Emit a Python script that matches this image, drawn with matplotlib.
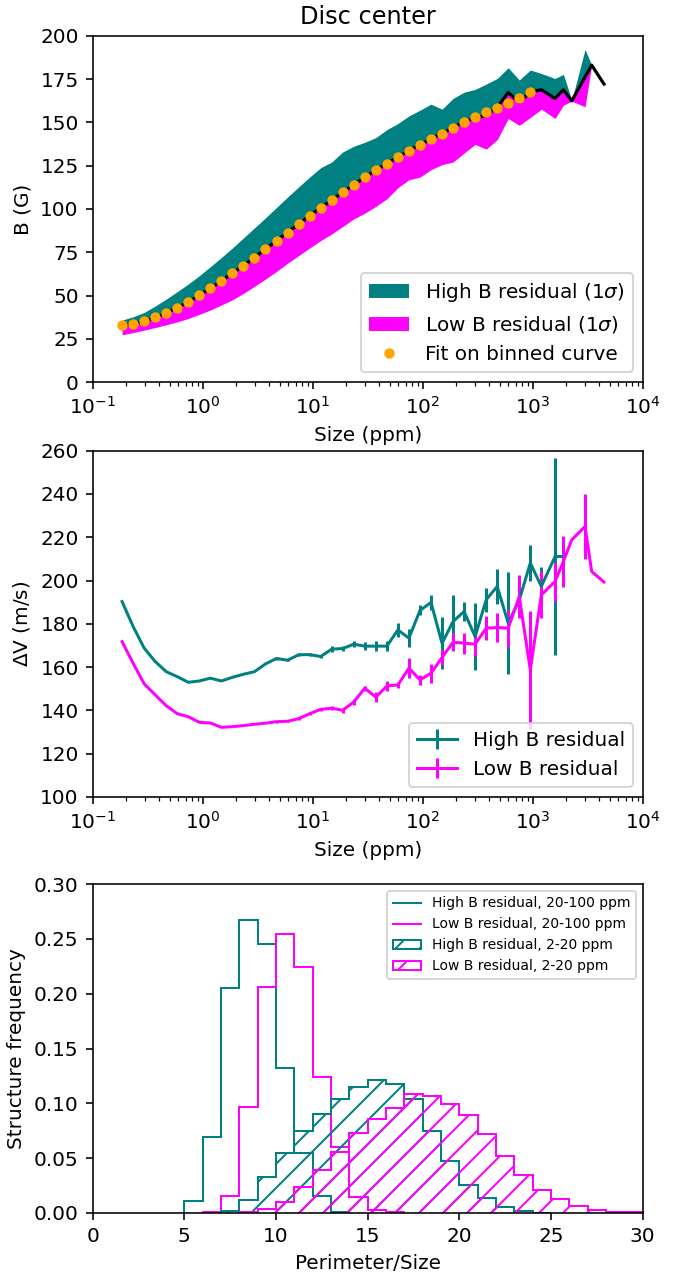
import numpy as np
import matplotlib
matplotlib.use("Agg")
import matplotlib.pyplot as plt

# ---------------- data ----------------
size_ppm = [0.1849, 0.2330, 0.2935, 0.3698, 0.4659, 0.5869, 0.7394, 0.9314, 1.173, 1.478,
            1.862, 2.346, 2.955, 3.723, 4.690, 5.908, 7.443, 9.378, 11.81, 14.88,
            18.75, 23.62, 29.76, 37.49, 47.23, 59.50, 74.96, 94.43, 119.0, 149.9,
            188.8, 237.9, 299.7, 377.5, 475.6, 599.1, 754.8, 950.9, 1198, 1596,
            1901, 2265, 2992, 3436, 4446]

b_mean = [32.8, 33.8, 35.1, 37.4, 39.9, 43.0, 46.3, 50.2, 54.2, 58.4,
          62.9, 67.3, 72.0, 76.8, 81.8, 86.4, 91.2, 96.1, 100.7, 105.1,
          109.6, 114.0, 118.2, 122.5, 126.2, 130.0, 133.7, 137.2, 140.4, 143.5,
          147.0, 150.3, 152.5, 154.0, 158.6, 167.2, 161.5, 167.6, 168.8, 163.8,
          168.8, 162.4, 176.1, 183.0, 172.1]

b_high_upper = [35.9, 37.8, 40.3, 44.0, 48.0, 52.3, 56.7, 61.5, 66.7, 72.0,
                77.5, 83.3, 89.1, 94.9, 100.9, 106.9, 112.7, 118.4, 123.8, 127.1,
                132.9, 136.2, 138.5, 141.2, 145.8, 149.3, 153.7, 157.0, 160.5, 157.6,
                163.8, 167.4, 169.0, 172.1, 175.3, 181.5, 174.4, 180.2, 178.2, 175.3,
                177.7, 162.8, 192.1, 183.0, np.nan]

b_low_lower = [27.4, 28.7, 30.1, 31.6, 33.2, 34.9, 36.8, 39.2, 41.7, 44.6,
               47.6, 51.3, 55.4, 59.6, 64.0, 68.7, 73.1, 77.5, 81.8, 85.6,
               89.9, 94.3, 97.6, 101.5, 105.9, 112.3, 116.9, 118.4, 122.7, 125.6,
               127.1, 132.3, 137.3, 134.5, 140.0, 152.2, 148.3, 152.8, 157.6, 152.2,
               159.9, 162.2, 159.0, 183.0, np.nan]

b_fit = [32.8, 33.8, 35.1, 37.4, 39.9, 43.0, 46.3, 50.2, 54.2, 58.4,
         62.9, 67.3, 72.0, 76.8, 81.8, 86.4, 91.2, 96.1, 100.7, 105.1,
         109.6, 114.0, 118.2, 122.5, 126.2, 130.0, 133.7, 137.2, 140.4, 143.5,
         147.0, 150.3, 153.1, 155.8, 158.5, 161.4, 164.1, 167.4]

dv_high = [190.3, 178.8, 168.8, 162.6, 157.9, 155.6, 153.0, 153.6, 154.9, 153.6,
           155.3, 156.7, 157.9, 161.5, 164.0, 163.2, 165.7, 165.8, 164.9, 168.3,
           168.6, 170.6, 169.7, 169.7, 169.7, 177.2, 173.4, 186.2, 189.9, 171.0,
           181.1, 185.7, 174.1, 191.1, 197.3, 180.3, 191.0, 208.1, 197.3, 211.1,
           211.1]
dv_high_err = [0, 0, 0, 0, 0, 0, 0, 0, 0, 0,
               0, 0, 0, 0, 0.5, 0.5, 0.7, 0.7, 0.8, 1.5,
               1.2, 1.5, 1.8, 2.2, 2.3, 3.4, 4.2, 2.3, 3.4, 12.0,
               12.3, 4.6, 15.4, 5.4, 8.2, 23.7, 7.0, 8.5, 9.0, 45.6,
               0]

dv_low = [171.8, 161.8, 152.3, 147.2, 142.2, 138.5, 137.1, 134.5, 134.2, 132.2,
          132.5, 133.0, 133.6, 134.1, 134.8, 135.0, 136.2, 138.5, 140.5, 141.0,
          140.1, 143.9, 150.3, 146.1, 151.3, 151.8, 159.5, 154.1, 157.2, 164.5,
          171.5, 171.1, 170.6, 178.0, 178.3, 178.0, 192.6, 158.7, 193.4, 199.6,
          208.8, 218.8, 225.0, 204.2, 199.3]
dv_low_err = [0, 0, 0, 0, 0, 0, 0, 0, 0, 0,
              0, 0, 0, 0, 0.4, 0.4, 0.5, 0.5, 0.6, 0.9,
              1.2, 1.5, 1.2, 2.3, 2.3, 1.5, 4.6, 2.3, 4.3, 3.5,
              4.2, 4.8, 5.4, 5.5, 6.5, 8.6, 10.0, 27.2, 10.8, 8.9,
              11.6, 0, 15.0, 0, 0]

# histograms: first bin left edge and bin heights (bin width 1)
hist_high_20_100_start = 5
hist_high_20_100 = [0.011, 0.0694, 0.2048, 0.267, 0.245, 0.1325, 0.0544, 0.0157, 0.0008]
hist_low_20_100_start = 6
hist_low_20_100 = [0.001, 0.0155, 0.0963, 0.206, 0.254, 0.224, 0.1238, 0.0599, 0.0145,
                   0.0029, 0.0005]
hist_high_2_20_start = 7
hist_high_2_20 = [0.0022, 0.0122, 0.0326, 0.0544, 0.0746, 0.0902, 0.1035, 0.115, 0.1215,
                  0.1176, 0.104, 0.0749, 0.0477, 0.0252, 0.0137, 0.0055, 0.0015, 0.0004]
hist_low_2_20_start = 8
hist_low_2_20 = [0.0005, 0.0033, 0.0102, 0.0240, 0.0395, 0.0555, 0.0732, 0.0853, 0.0962,
                 0.1084, 0.107, 0.0997, 0.089, 0.0717, 0.052, 0.0344, 0.0211, 0.013,
                 0.0068, 0.0027, 0.0012, 0.0006]

TEAL = "teal"
MAG = "magenta"

# ---------------- figure ----------------
W, H = 681, 1273
DPI = 144
fig = plt.figure(figsize=(W / DPI, H / DPI), dpi=DPI)

def axes_px(left, top, right, bottom):
    return fig.add_axes([left / W, (H - bottom) / H, (right - left) / W, (bottom - top) / H])

ax1 = axes_px(92.7, 35.7, 642.7, 382.3)
ax2 = axes_px(92.7, 450.7, 642.7, 797.0)
ax3 = axes_px(92.7, 884.0, 642.7, 1213.0)

# ---- top panel ----
x = np.array(size_ppm)
bm = np.array(b_mean)
ax1.fill_between(x, bm, np.array(b_high_upper), color=TEAL, lw=0,
                 label=r"High B residual (1$\sigma$)")
ax1.fill_between(x, np.array(b_low_lower), bm, color=MAG, lw=0,
                 label=r"Low B residual (1$\sigma$)")
ax1.plot(x, bm, color="black", lw=1.6)
ax1.plot(x[:len(b_fit)], b_fit, "o", color="orange", ms=4.2, ls="none",
         label="Fit on binned curve")
ax1.set_xscale("log")
ax1.set_xlim(0.1, 1e4)
ax1.set_ylim(0, 200)
ax1.set_xlabel("Size (ppm)")
ax1.set_ylabel("B (G)")
ax1.set_title("Disc center")
ax1.legend(loc="lower right")

# ---- middle panel ----
ax2.errorbar(x[:len(dv_high)], dv_high, yerr=dv_high_err, color=TEAL, lw=1.5,
             label="High B residual")
ax2.errorbar(x[:len(dv_low)], dv_low, yerr=dv_low_err, color=MAG, lw=1.5,
             label="Low B residual")
ax2.set_xscale("log")
ax2.set_xlim(0.1, 1e4)
ax2.set_ylim(100, 260)
ax2.set_xlabel("Size (ppm)")
ax2.set_ylabel(r"$\Delta$V (m/s)")
ax2.legend(loc="lower right")

# ---- bottom panel ----
def stairs(ax, start, vals, **kw):
    edges = np.arange(start, start + len(vals) + 1)
    return ax.stairs(vals, edges, **kw)

stairs(ax3, hist_high_20_100_start, hist_high_20_100, color=TEAL, lw=1.0,
       label="High B residual, 20-100 ppm")
stairs(ax3, hist_low_20_100_start, hist_low_20_100, color=MAG, lw=1.0,
       label="Low B residual, 20-100 ppm")
stairs(ax3, hist_high_2_20_start, hist_high_2_20, edgecolor=TEAL, lw=1.0, hatch="//",
       fill=False, label="High B residual, 2-20 ppm")
stairs(ax3, hist_low_2_20_start, hist_low_2_20, edgecolor=MAG, lw=1.0, hatch="//",
       fill=False, label="Low B residual, 2-20 ppm")
ax3.set_xlim(0, 30)
ax3.set_ylim(0, 0.30)
ax3.set_xlabel("Perimeter/Size")
ax3.set_ylabel("Structure frequency")
ax3.legend(loc="upper right", fontsize="x-small")

fig.savefig("out.png", dpi=DPI)
